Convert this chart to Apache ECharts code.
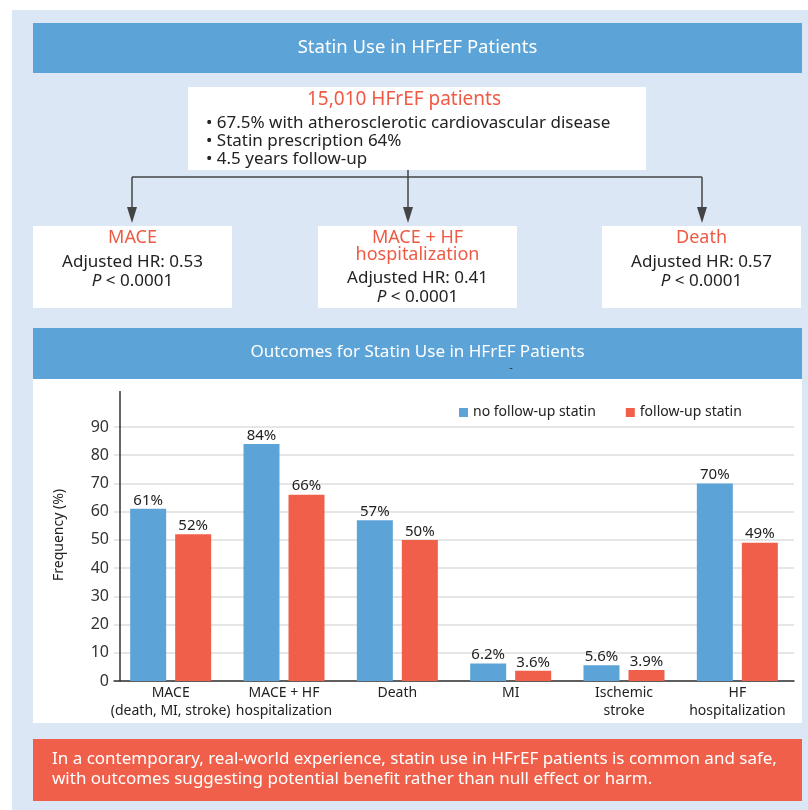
<!DOCTYPE html>
<html>
<head>
<meta charset="utf-8">
<title>Statin Use in HFrEF Patients</title>
<script src="https://cdn.jsdelivr.net/npm/echarts@6/dist/echarts.min.js"></script>
<style>
  html, body { margin: 0; padding: 0; background: #ffffff; }
  #chart { width: 808px; height: 810px; }
</style>
</head>
<body>
<div id="chart"></div>
<script>
// Outcome categories and frequencies (%)
const categories = [
  'MACE\n(death, MI, stroke)',
  'MACE + HF\nhospitalization',
  'Death',
  'MI',
  'Ischemic\nstroke',
  'HF\nhospitalization'
];
const seriesNames = ['no follow-up statin', 'follow-up statin'];
const noStatin = [61, 84, 57, 6.2, 5.6, 70];
const withStatin = [52, 66, 50, 3.6, 3.9, 49];
const yMin = 0, yMax = 90, yStep = 10;

// Flowchart texts
const mainTitle = 'Statin Use in HFrEF Patients';
const cohortTitle = '15,010 HFrEF patients';
const cohortBullets = [
  '\u2022 67.5% with atherosclerotic cardiovascular disease',
  '\u2022 Statin prescription 64%',
  '\u2022 4.5 years follow-up'
];
const endpointBoxes = [
  { title: ['MACE'], hr: 'Adjusted HR: 0.53', p: '< 0.0001' },
  { title: ['MACE + HF', 'hospitalization'], hr: 'Adjusted HR: 0.41', p: '< 0.0001' },
  { title: ['Death'], hr: 'Adjusted HR: 0.57', p: '< 0.0001' }
];
const chartTitle = 'Outcomes for Statin Use in HFrEF Patients';
const conclusion = [
  'In a contemporary, real-world experience, statin use in HFrEF patients is common and safe,',
  'with outcomes suggesting potential benefit rather than null effect or harm.'
];

const FONT = "'Noto Sans', 'Open Sans', sans-serif";
const BLUE = '#5ca4d8';
const RED = '#f05f4a';
const RED_TEXT = '#f05a45';
const PANEL = '#dce7f5';
const INK = '#222222';

// Layout of the bar chart area
const gridLeft = 114, gridRight = 14, gridTop = 427, gridBottom = 129;
const axisShift = 6; // y axis line sits a little inside the grid edge
const axisX = gridLeft + axisShift;

const g = [];
function rect(x, y, w, h, fill) {
  g.push({ type: 'rect', z: -10, shape: { x, y, width: w, height: h }, style: { fill } });
}
function text(t, x, y, size, fill, align, extra) {
  g.push(Object.assign({
    type: 'text', z: -5,
    style: Object.assign({
      text: t, x, y, fill, fontSize: size, fontFamily: FONT,
      align: align || 'center', verticalAlign: 'middle'
    }, extra || {})
  }));
}

// panel background
rect(12, 10, 796, 800, PANEL);

// header banner
rect(33, 23, 769, 50, BLUE);
text(mainTitle, 417.5, 48, 18.5, '#ffffff');

// cohort box
rect(188, 87, 458, 83, '#ffffff');
text(cohortTitle, 404, 100, 19, RED_TEXT);
cohortBullets.forEach((line, i) => text(line, 206, 123 + i * 18, 17, INK, 'left'));

// connectors with arrowheads
const arrowXs = [132, 408, 702];
const barY = 177, tipY = 223;
g.push({ type: 'line', z: -5, shape: { x1: 408, y1: 170, x2: 408, y2: barY }, style: { stroke: '#444', lineWidth: 1.5 } });
g.push({ type: 'line', z: -5, shape: { x1: arrowXs[0], y1: barY, x2: arrowXs[2], y2: barY }, style: { stroke: '#444', lineWidth: 1.5 } });
arrowXs.forEach(x => {
  g.push({ type: 'line', z: -5, shape: { x1: x, y1: barY, x2: x, y2: tipY - 14 }, style: { stroke: '#444', lineWidth: 1.5 } });
  g.push({ type: 'polygon', z: -5, shape: { points: [[x - 5, tipY - 16], [x + 5, tipY - 16], [x, tipY]] }, style: { fill: '#444' } });
});

// endpoint boxes
const boxXs = [33, 318, 602];
endpointBoxes.forEach((b, i) => {
  const x0 = boxXs[i], cx = x0 + 99.5;
  rect(x0, 226, 199, 82, '#ffffff');
  let y = 238;
  b.title.forEach((t, k) => { text(t, cx, y, 18, RED_TEXT); y += 17; });
  y += b.title.length > 1 ? 6 : 7;
  text(b.hr, cx, y, 17, INK);
  y += 19.5;
  text('{i|P} ' + b.p, cx, y, 17, INK, 'center', {
    rich: { i: { fontStyle: 'italic', fontSize: 17, fontFamily: FONT, fill: INK } }
  });
});

// chart banner and chart area
rect(33, 328, 769, 51, BLUE);
text(chartTitle, 417.5, 352, 17, '#ffffff');
text('-', 511, 368, 11, '#333333');
rect(33, 379, 769, 344, '#ffffff');

// conclusion banner
rect(33, 739, 769, 62, RED);
conclusion.forEach((line, i) => text(line, 52, 759 + i * 20.5, 17, '#ffffff', 'left'));

// y axis continues above the top tick; axis title
g.push({ type: 'line', z: 1, shape: { x1: axisX, y1: 391, x2: axisX, y2: gridTop }, style: { stroke: '#333', lineWidth: 1.5 } });
g.push({
  type: 'text', z: 1, x: 59, y: 535, rotation: Math.PI / 2,
  style: { text: 'Frequency (%)', x: 0, y: 0, fill: INK, fontSize: 14, fontFamily: FONT, align: 'center', verticalAlign: 'middle' }
});

const labelStyle = {
  show: true, position: 'top', distance: 1,
  formatter: p => p.value + '%',
  fontSize: 15, color: INK, fontFamily: FONT
};

const chart = echarts.init(document.getElementById('chart'), null, { renderer: 'canvas' });
chart.setOption({
  backgroundColor: '#ffffff',
  animation: false,
  textStyle: { fontFamily: FONT },
  graphic: g,
  legend: {
    data: seriesNames,
    left: 454, top: 400,
    icon: 'rect', itemWidth: 9, itemHeight: 9, itemGap: 30,
    textStyle: { fontSize: 14, color: INK, fontFamily: FONT, lineHeight: 15 }
  },
  grid: { left: gridLeft, right: gridRight, top: gridTop, bottom: gridBottom, containLabel: false },
  xAxis: {
    type: 'category',
    data: categories,
    axisLine: { lineStyle: { color: '#333', width: 1.5 } },
    axisTick: { show: false },
    axisLabel: { interval: 0, margin: 3, fontSize: 14, lineHeight: 18, color: INK, fontFamily: FONT }
  },
  yAxis: {
    type: 'value',
    min: yMin, max: yMax, interval: yStep,
    offset: -axisShift,
    axisLine: { show: true, lineStyle: { color: '#333', width: 1.5 } },
    axisTick: { show: false },
    axisLabel: { margin: 11, fontSize: 16, color: '#333', fontFamily: FONT },
    splitLine: { lineStyle: { color: '#dedede', width: 1.5 } }
  },
  series: [
    {
      name: seriesNames[0], type: 'bar', data: noStatin,
      barWidth: 36, barGap: '25%',
      itemStyle: { color: BLUE },
      label: labelStyle
    },
    {
      name: seriesNames[1], type: 'bar', data: withStatin,
      barWidth: 36, barGap: '25%',
      itemStyle: { color: RED },
      label: labelStyle
    }
  ]
});
</script>
</body>
</html>
